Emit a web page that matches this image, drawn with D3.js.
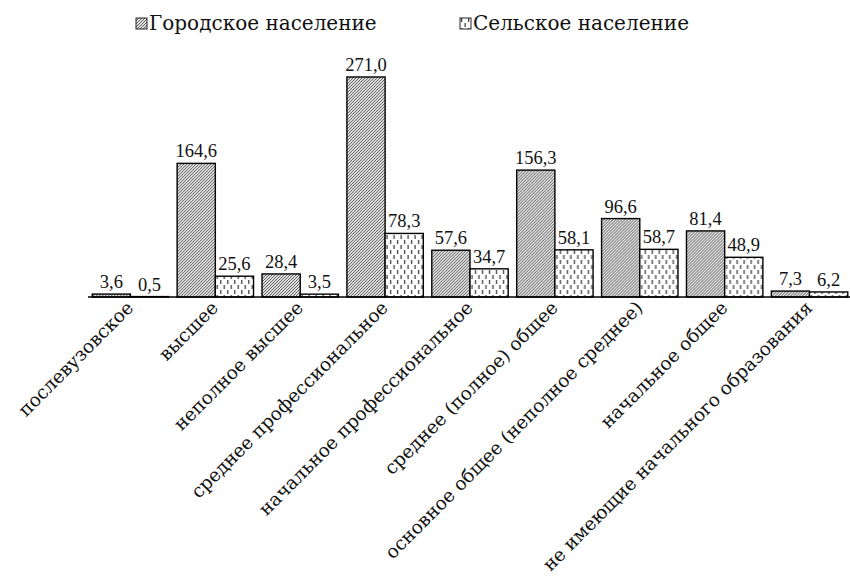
<!DOCTYPE html>
<html>
<head>
<meta charset="utf-8">
<script src="https://cdn.jsdelivr.net/npm/d3@7"></script>
<style>
  html, body { margin: 0; padding: 0; background: #fff; }
  svg { display: block; }
</style>
</head>
<body>
<svg id="chart" width="850" height="577"></svg>
<script>
// Education levels, population (thousand people)
const categories = [
  "послевузовское",
  "высшее",
  "неполное высшее",
  "среднее профессиональное",
  "начальное профессиональное",
  "среднее (полное) общее",
  "основное общее (неполное среднее)",
  "начальное общее",
  "не имеющие начального образования"
];
const seriesNames = ["Городское население", "Сельское население"];
const urban = [3.6, 164.6, 28.4, 271.0, 57.6, 156.3, 96.6, 81.4, 7.3];
const rural = [0.5, 25.6, 3.5, 78.3, 34.7, 58.1, 58.7, 48.9, 6.2];

const fmt = v => v.toFixed(1).replace(".", ",");

const svg = d3.select("#chart");
const W = 850, H = 577;
const margin = { left: 88, right: 0, top: 77, bottom: 280 };
const baseY = H - margin.bottom;

// Fill patterns: fine diagonal hatching and dashed vertical strokes
const defs = svg.append("defs");
const hatch = defs.append("pattern")
  .attr("id", "pat-urban")
  .attr("patternUnits", "userSpaceOnUse")
  .attr("width", 3).attr("height", 3);
hatch.append("rect").attr("width", 3).attr("height", 3).attr("fill", "#e2e2e2");
hatch.append("path")
  .attr("d", "M-1,1 l2,-2 M0,3 l3,-3 M2,4 l2,-2")
  .attr("stroke", "#444").attr("stroke-width", 0.85);

const dash = defs.append("pattern")
  .attr("id", "pat-rural")
  .attr("patternUnits", "userSpaceOnUse")
  .attr("width", 7).attr("height", 10);
dash.append("rect").attr("width", 7).attr("height", 10).attr("fill", "#fff");
dash.append("rect").attr("x", 1).attr("y", 0).attr("width", 1.3).attr("height", 4).attr("fill", "#444");
dash.append("rect").attr("x", 4.5).attr("y", 5).attr("width", 1.3).attr("height", 4).attr("fill", "#444");

const fills = ["url(#pat-urban)", "url(#pat-rural)"];

// Scales
const x = d3.scaleBand()
  .domain(categories)
  .range([margin.left, 852])
  .paddingInner(0.1)
  .paddingOuter(0.05);
const sub = d3.scaleBand()
  .domain([0, 1])
  .range([0, x.bandwidth()]);
const y = d3.scaleLinear()
  .domain([0, d3.max(urban.concat(rural))])
  .range([baseY, margin.top]);

const rows = categories.map((c, i) => ({ c, vals: [urban[i], rural[i]] }));

// Bars
const groups = svg.append("g").selectAll("g")
  .data(rows).join("g")
  .attr("transform", d => `translate(${x(d.c)},0)`);

groups.selectAll("rect")
  .data(d => d.vals.map((v, k) => ({ v, k })))
  .join("rect")
  .attr("x", d => sub(d.k))
  .attr("y", d => y(d.v))
  .attr("width", sub.bandwidth())
  .attr("height", d => baseY - y(d.v))
  .attr("fill", d => fills[d.k])
  .attr("stroke", "#000")
  .attr("stroke-width", 1.4);

// Value labels
groups.selectAll("text")
  .data(d => d.vals.map((v, k) => ({ v, k })))
  .join("text")
  .attr("x", d => sub(d.k) + sub.bandwidth() / 2)
  .attr("y", d => y(d.v) - 6)
  .attr("text-anchor", "middle")
  .attr("font-family", "'Liberation Serif', serif")
  .attr("font-size", 18.5)
  .attr("fill", "#111")
  .text(d => fmt(d.v));

// Baseline axis with rotated category labels
const axis = svg.append("g")
  .attr("transform", `translate(0,${baseY})`)
  .call(d3.axisBottom(x).tickSize(0).tickSizeOuter(0).tickPadding(0));
axis.select(".domain")
  .attr("d", `M${margin.left},0H850`)
  .attr("stroke", "#000").attr("stroke-width", 1.5);
axis.selectAll(".tick text")
  .attr("font-family", "'DejaVu Serif', serif")
  .attr("font-size", 18.5)
  .attr("fill", "#111")
  .attr("text-anchor", "end")
  .attr("dy", 0)
  .attr("y", 0)
  .attr("transform", "translate(4,12) rotate(-45)");

// Legend
const legendItems = [
  { name: seriesNames[0], fill: fills[0], x: 136 },
  { name: seriesNames[1], fill: fills[1], x: 460 }
];
const lg = svg.append("g").selectAll("g")
  .data(legendItems).join("g")
  .attr("transform", d => `translate(${d.x},18)`);
lg.append("rect")
  .attr("width", 11).attr("height", 11)
  .attr("fill", d => d.fill)
  .attr("stroke", "#222").attr("stroke-width", 1);
lg.append("text")
  .attr("x", 13).attr("y", 12)
  .attr("font-family", "'DejaVu Serif', serif")
  .attr("font-size", 20)
  .attr("fill", "#111")
  .text(d => d.name);
</script>
</body>
</html>
